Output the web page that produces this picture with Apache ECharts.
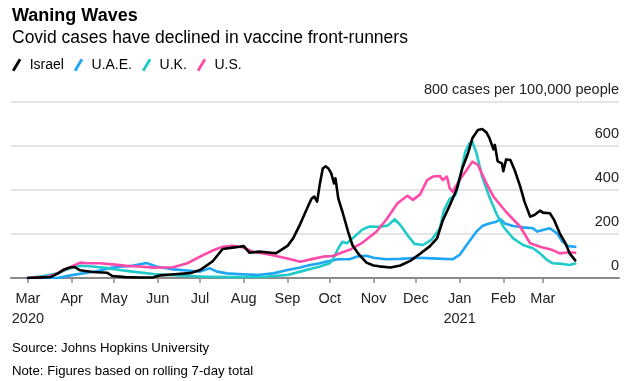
<!DOCTYPE html>
<html>
<head>
<meta charset="utf-8">
<script src="https://cdn.jsdelivr.net/npm/echarts@6/dist/echarts.min.js"></script>
<style>
html,body{margin:0;padding:0;background:#fff;}
#chart{width:635px;height:381px;}
</style>
</head>
<body>
<div id="chart"></div>
<script>
// Days counted from 2020-03-01
const START = '2020-03-01';
const seriesNames = ['Israel', 'U.A.E.', 'U.K.', 'U.S.'];

const israelDays = [0,16,21,26,30,33,37,46,56,60,69,79,89,94,104,115,122,131,138,145,150,153,157,164,174,176,184,188,193,198,201,203,205,207,209,211,213,215,217,218,220,223,227,230,234,240,245,249,257,264,271,278,285,290,294,299,304,308,312,315,319,322,325,327,330,331,333,336,337,339,342,345,349,352,356,359,363,365,370,373,377,381,384,388];
const israelValues = [0,4,20,40,48,50,35,27,24,9,4,2,3,12,17,22,36,76,132,138,142,145,115,120,114,113,146,180,245,318,360,370,347,430,498,508,498,476,430,453,362,300,210,150,112,70,57,53,48,57,78,110,145,180,260,330,405,500,567,635,673,677,662,638,585,605,530,521,485,539,536,491,415,347,279,286,306,297,294,264,203,158,112,80];

const uaeDays = [0,21,31,42,51,60,74,84,91,103,115,122,129,134,141,152,162,174,184,193,200,207,211,220,228,233,240,245,254,264,276,287,301,306,311,318,322,327,332,335,338,344,351,358,361,365,370,375,379,383,388];
const uaeValues = [0,0,13,24,34,48,56,68,52,39,33,29,44,29,21,17,14,21,36,48,59,67,74,85,85,97,101,92,85,87,92,89,85,105,150,211,236,248,256,267,248,236,230,226,211,218,226,203,165,145,142];

const ukDays = [0,11,21,32,37,46,56,65,74,89,99,113,127,145,169,184,193,202,207,214,216,220,223,226,230,237,242,249,255,260,264,269,274,280,286,292,295,299,303,306,310,313,315,318,322,327,332,337,344,351,358,363,368,372,379,384,388];
const ukValues = [0,9,21,50,56,52,45,36,29,18,14,9,6,4,6,14,29,44,52,67,82,135,165,158,180,220,234,233,238,267,241,195,155,150,173,225,310,360,377,445,574,612,620,567,461,370,294,233,180,150,135,112,82,67,64,59,66];

const usDays = [0,14,21,28,37,42,51,60,70,79,89,103,113,122,131,138,145,152,160,169,176,184,193,202,209,216,228,237,247,254,262,269,273,278,283,287,292,294,297,299,301,306,311,315,319,325,330,339,349,356,363,372,377,384,388];
const usValues = [0,6,21,44,70,67,67,62,55,52,47,49,67,97,125,142,146,140,118,109,100,89,74,87,97,100,128,160,210,265,340,374,355,380,445,461,464,445,461,408,392,445,491,529,514,430,370,300,233,158,142,127,112,117,115];

const monthTickDates = ['2020-03-01','2020-04-01','2020-05-01','2020-06-01','2020-07-01','2020-08-01','2020-09-01','2020-10-01','2020-11-01','2020-12-01','2021-01-01','2021-02-01','2021-03-01'];
const monthTickLabels = ['Mar\n2020','Apr','May','Jun','Jul','Aug','Sep','Oct','Nov','Dec','Jan\n2021','Feb','Mar'];
const yTicks = [0, 200, 400, 600, 800];
const yTopLabel = '800 cases per 100,000 people';

const colors = ['#000000', '#1ea6f6', '#1fcaca', '#ff4aa9'];

function dayOf(s) {
  return Math.round((Date.parse(s) - Date.parse(START)) / 86400000);
}
const tickDays = monthTickDates.map(dayOf);
function pairs(d, v) { return d.map((x, i) => [x, v[i]]); }

const dataSets = [
  pairs(israelDays, israelValues),
  pairs(uaeDays, uaeValues),
  pairs(ukDays, ukValues),
  pairs(usDays, usValues)
];

const FONT = '"Liberation Sans", Arial, sans-serif';
const slash = 'path://M0,12.5 L7.4,0 L10,1.5 L2.6,14 Z';

const chart = echarts.init(document.getElementById('chart'), null, {renderer: 'canvas'});
const drawOrder = [1, 2, 3, 0];

chart.setOption({
  animation: false,
  backgroundColor: '#ffffff',
  title: [
    {text: 'Waning Waves', left: 7, top: 2, textStyle: {fontFamily: FONT, fontSize: 18, fontWeight: 'bold', color: '#000'}},
    {text: 'Covid cases have declined in vaccine front-runners', left: 7, top: 24, textStyle: {fontFamily: FONT, fontSize: 17.5, fontWeight: 'normal', color: '#000'}},
    {text: 'Source: Johns Hopkins University', left: 7, top: 337, textStyle: {fontFamily: FONT, fontSize: 13.2, fontWeight: 'normal', color: '#000'}},
    {text: 'Note: Figures based on rolling 7-day total', left: 7, top: 360, textStyle: {fontFamily: FONT, fontSize: 13.2, fontWeight: 'normal', color: '#000'}}
  ],
  legend: {
    left: 7, top: 53,
    itemWidth: 10, itemHeight: 13, itemGap: 10,
    icon: slash,
    data: seriesNames.map((n, i) => ({name: n, itemStyle: {color: colors[i]}})),
    textStyle: {fontFamily: FONT, fontSize: 14, color: '#000', padding: [0, 0, 0, 3]}
  },
  grid: {left: 11, right: 16, top: 102, bottom: 103, containLabel: false},
  xAxis: {
    type: 'value', min: -12, max: 419,
    axisLine: {show: true, lineStyle: {color: '#8a8a8a', width: 2}},
    axisTick: {show: true, customValues: tickDays, length: 5, lineStyle: {color: '#8a8a8a', width: 1.5}},
    axisLabel: {
      show: true, customValues: tickDays, margin: 11,
      fontFamily: FONT, fontSize: 14.5, color: '#222', lineHeight: 20,
      formatter: function (v) { const k = tickDays.indexOf(Math.round(v)); return k >= 0 ? monthTickLabels[k] : ''; }
    },
    splitLine: {show: false}
  },
  yAxis: {
    type: 'value', position: 'right', min: 0, max: 800, interval: 200,
    axisLine: {show: false}, axisTick: {show: false},
    axisLabel: {
      inside: true, margin: 0, verticalAlign: 'bottom', padding: [0, 0, 5, 0],
      fontFamily: FONT, fontSize: 14.5, color: '#222',
      formatter: function (v) { return v === 800 ? yTopLabel : String(v); }
    },
    splitLine: {show: true, lineStyle: {color: '#dcdcdc', width: 1.5}}
  },
  series: drawOrder.map(i => ({
    name: seriesNames[i], type: 'line', data: dataSets[i],
    showSymbol: false, symbol: 'none', smooth: false,
    lineStyle: {color: colors[i], width: 2.6, join: 'round', cap: 'round'},
    itemStyle: {color: colors[i]},
    z: 2 + drawOrder.indexOf(i)
  }))
});
</script>
</body>
</html>
